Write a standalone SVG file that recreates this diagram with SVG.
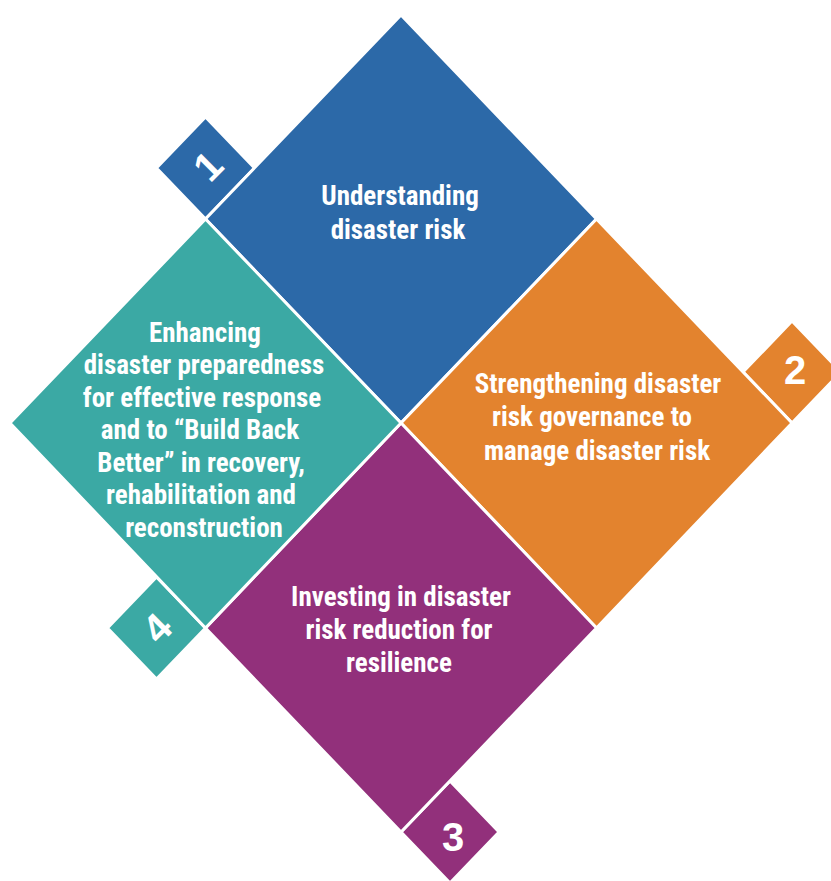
<svg xmlns="http://www.w3.org/2000/svg" width="831" height="881" viewBox="0 0 831 881">
<style>
.pc{stroke:#ffffff;stroke-width:3;stroke-linejoin:miter}
.blue{fill:#2C69A8}
.orange{fill:#E3832E}
.purple{fill:#92307B}
.teal{fill:#3BA9A4}
.lbl{font-family:"Liberation Sans Narrow","Roboto Condensed","Liberation Sans",Arial,sans-serif;font-weight:bold;font-size:27px;fill:#ffffff;text-anchor:middle}
.num{font-family:"Liberation Sans",Arial,sans-serif;font-weight:bold;font-size:40px;fill:#ffffff;text-anchor:middle}
</style>
<rect width="831" height="881" fill="#ffffff"/>
<g id="badge1">
<polygon class="blue pc" points="205.5,117 254.5,168 205.5,219 156.5,168"/>
<text class="num" transform="translate(208,166) rotate(-45)" y="14">1</text>
</g>
<g id="badge2">
<polygon class="orange pc" points="792,321 841,372 792,423 743,372"/>
<text class="num" x="795" y="384">2</text>
</g>
<g id="badge3">
<polygon class="purple pc" points="450,781 499,832 450,883 401,832"/>
<text class="num" x="453" y="851">3</text>
</g>
<g id="badge4">
<polygon class="teal pc" points="156.5,577 205.5,628 156.5,679 107.5,628"/>
<text class="num" transform="translate(157,628) rotate(-45)" y="14">4</text>
</g>
<g id="understanding">
<polygon class="blue pc" points="401,15 596.5,219 401,423 205.5,219"/>
<text class="lbl" x="400" y="205">Understanding</text>
<text class="lbl" x="398" y="239">disaster risk</text>
</g>
<g id="governance">
<polygon class="orange pc" points="596.5,219 792,423 596.5,628 401,423"/>
<text class="lbl" x="598" y="393">Strengthening disaster</text>
<text class="lbl" x="592" y="426">risk governance to</text>
<text class="lbl" x="597" y="460">manage disaster risk</text>
</g>
<g id="investing">
<polygon class="purple pc" points="401,423 596.5,628 401,832 205.5,628"/>
<text class="lbl" x="401" y="606">Investing in disaster</text>
<text class="lbl" x="399" y="639">risk reduction for</text>
<text class="lbl" x="399" y="672">resilience</text>
</g>
<g id="preparedness">
<polygon class="teal pc" points="205.5,219 401,423 205.5,628 10,423"/>
<text class="lbl" x="205" y="342">Enhancing</text>
<text class="lbl" x="204" y="374">disaster preparedness</text>
<text class="lbl" x="202" y="407">for effective response</text>
<text class="lbl" x="200" y="439">and to “Build Back</text>
<text class="lbl" x="201" y="472">Better” in recovery,</text>
<text class="lbl" x="201" y="504">rehabilitation and</text>
<text class="lbl" x="204" y="537">reconstruction</text>
</g>
<g id="connectors"/>
</svg>
